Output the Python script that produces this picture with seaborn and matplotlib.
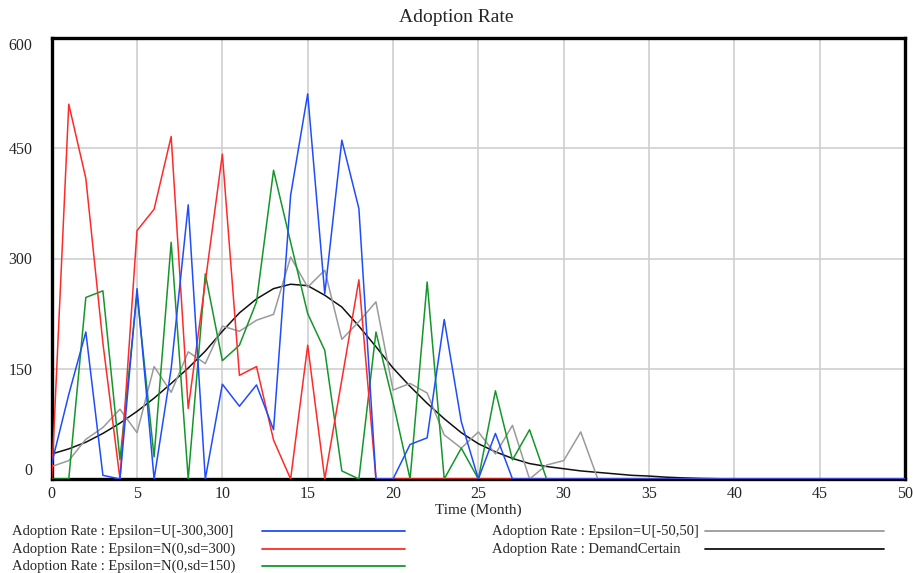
import numpy as np
import pandas as pd
import matplotlib
matplotlib.use("Agg")
import matplotlib.pyplot as plt
from matplotlib.lines import Line2D
import seaborn as sns

months = list(range(0, 51))

eps_u300 = [21, 115, 200, 5, 0, 259, 0, 150, 373, 0, 129, 99, 128, 67, 386, 524, 252, 461,
            368, 0, 0, 47, 56, 217, 78, 0, 62, 0] + [0] * 23
eps_n300 = [0, 510, 409, 185, 0, 338, 367, 466, 96, 268, 442, 141, 153, 53, 0, 182, 0, 135,
            271, 0] + [0] * 31
eps_n150 = [0, 0, 247, 256, 26, 252, 30, 322, 0, 279, 161, 182, 241, 420, 322, 225, 175, 11,
            0, 200, 105, 0, 268, 0, 42, 0, 120, 26, 67, 0] + [0] * 21
eps_u50 = [17, 25, 54, 70, 95, 63, 153, 118, 173, 157, 208, 201, 216, 224, 302, 261, 284, 190,
           214, 241, 121, 130, 117, 60, 42, 64, 34, 73, 0, 19, 25, 64, 0] + [0] * 18
demand_certain = [34, 41, 50, 62, 76, 92, 110, 130, 151, 174, 201, 226, 245, 259, 265, 263, 250,
                  234, 208, 180, 151, 126, 103, 82, 63, 48, 37, 28, 21, 17, 14, 11, 9, 7, 5, 4,
                  2.5, 1.5, 0.8, 0.4] + [0] * 11

series_names = [
    "Adoption Rate : Epsilon=U[-300,300]",
    "Adoption Rate : Epsilon=N(0,sd=300)",
    "Adoption Rate : Epsilon=N(0,sd=150)",
    "Adoption Rate : Epsilon=U[-50,50]",
    "Adoption Rate : DemandCertain",
]
series_values = [eps_u300, eps_n300, eps_n150, eps_u50, demand_certain]
colors = ["#1f4cff", "#ff2a2a", "#14962a", "#9a9a9a", "#111111"]

x_ticks = list(range(0, 51, 5))
y_ticks = [0, 150, 300, 450, 600]

sns.set_theme(style="white")
plt.rcParams["font.family"] = ["Liberation Serif", "DejaVu Serif"]

W, H = 913, 573
fig = plt.figure(figsize=(W / 100, H / 100), dpi=100)
L, R, T, B = 51.7, 905, 38, 479
ax = fig.add_axes([L / W, 1 - B / H, (R - L) / W, (B - T) / H])

df = pd.concat(
    [pd.DataFrame({"Time": months, "Value": v, "Series": n}) for n, v in zip(series_names, series_values)],
    ignore_index=True,
)

# draw so the first series ends on top
for name, col in reversed(list(zip(series_names, colors))):
    sub = df[df["Series"] == name]
    sns.lineplot(data=sub, x="Time", y="Value", ax=ax, color=col, linewidth=1.1,
                 legend=False, zorder=3)

ax.set_xlim(0, 50)
ax.set_ylim(0, 600)
ax.set_xticks(x_ticks)
ax.set_xticklabels([str(v) for v in x_ticks], fontsize=11.5)
ax.set_yticks(y_ticks)
ax.set_yticklabels([str(v) for v in y_ticks], fontsize=11.5)
ax.tick_params(axis="both", length=0)
ax.tick_params(axis="x", pad=5)
ax.tick_params(axis="y", pad=14)
ylabels = ax.get_yticklabels()
ylabels[0].set_va("bottom")
ylabels[-1].set_va("top")

ax.grid(True, color="#cfcfcf", linewidth=1.2, zorder=0)
ax.set_axisbelow(True)
for s in ax.spines.values():
    s.set_visible(True)
    s.set_color("black")
    s.set_linewidth(2.4)
ax.set_xlabel("Time (Month)", fontsize=11, labelpad=1)
ax.set_ylabel("")

fig.text(0.5, 1 - 18 / H, "Adoption Rate", ha="center", va="center", fontsize=14)

# legend below the plot
left_items = [(0, 531), (1, 549), (2, 566)]
right_items = [(3, 531), (4, 549)]
for idx, y in left_items:
    fig.text(12 / W, 1 - y / H, series_names[idx], ha="left", va="center", fontsize=10.5)
    fig.add_artist(Line2D([262 / W, 405 / W], [1 - y / H, 1 - y / H], color=colors[idx],
                          linewidth=1.3, transform=fig.transFigure))
for idx, y in right_items:
    fig.text(492 / W, 1 - y / H, series_names[idx], ha="left", va="center", fontsize=10.5)
    fig.add_artist(Line2D([705 / W, 884 / W], [1 - y / H, 1 - y / H], color=colors[idx],
                          linewidth=1.3, transform=fig.transFigure))

fig.savefig("out.png", dpi=100, facecolor="white")
